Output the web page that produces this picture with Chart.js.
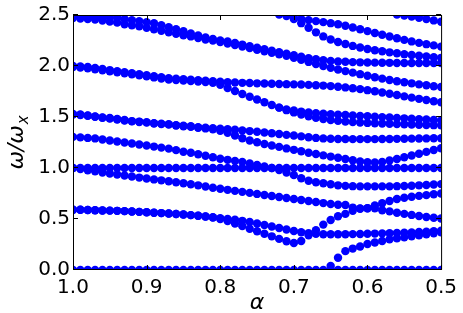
<!DOCTYPE html>
<html><head><meta charset="utf-8">
<script src="https://cdn.jsdelivr.net/npm/chart.js@4/dist/chart.umd.min.js"></script>
<style>html,body{margin:0;padding:0;background:#fff;}#wrap{width:463px;height:313px;}</style>
</head><body><div id="wrap"><canvas id="c" width="463" height="313"></canvas></div>
<script>
const alpha = [1.00,0.99,0.98,0.97,0.96,0.95,0.94,0.93,0.92,0.91,
0.90,0.89,0.88,0.87,0.86,0.85,0.84,0.83,0.82,0.81,
0.80,0.79,0.78,0.77,0.76,0.75,0.74,0.73,0.72,0.71,
0.70,0.69,0.68,0.67,0.66,0.65,0.64,0.63,0.62,0.61,
0.60,0.59,0.58,0.57,0.56,0.55,0.54,0.53,0.52,0.51,0.50];
const xTicks = [1.0,0.9,0.8,0.7,0.6,0.5];
const yTicks = [0.0,0.5,1.0,1.5,2.0,2.5];

const zeroMode = [0,0,0,0,0,0,0,0,0,0, 0,0,0,0,0,0,0,0,0,0, 0,0,0,0,0,0,0,0,0,0, 0,0,0,0,0,0,0,0,0,0, 0,0,0,0,0,0,0,0,0,0,0];
const softMode = [null,null,null,null,null,null,null,null,null,null,
null,null,null,null,null,null,null,null,null,null,
null,null,null,null,null,null,null,null,null,null,
null,null,null,null,null,0.04,0.12,0.185,0.21,0.23,
0.255,0.27,0.285,0.30,0.31,0.32,0.33,0.34,0.35,0.36,0.37];
const p1 = [0.590,0.590,0.588,0.586,0.584,0.582,0.580,0.577,0.574,0.570,
0.566,0.562,0.558,0.554,0.549,0.544,0.538,0.532,0.525,0.517,
0.508,0.500,0.492,0.482,0.470,0.456,0.442,0.427,0.412,0.397,
0.383,0.370,0.360,0.354,0.351,0.350,0.350,0.351,0.352,0.353,
0.355,0.357,0.359,0.361,0.363,0.366,0.369,0.372,0.376,0.380,0.385];
const p2 = [0.590,0.590,0.588,0.586,0.584,0.582,0.580,0.577,0.574,0.570,
0.566,0.562,0.558,0.554,0.549,0.544,0.538,0.532,0.525,0.515,
0.500,0.480,0.455,0.430,0.405,0.380,0.355,0.330,0.305,0.282,
0.265,0.285,0.340,0.390,0.445,0.490,0.527,0.550,0.580,0.600,
0.606,0.606,0.585,0.575,0.562,0.550,0.540,0.530,0.520,0.512,0.505];
const dMode = [1.000,0.990,0.978,0.967,0.956,0.946,0.936,0.926,0.916,0.906,
0.897,0.888,0.879,0.870,0.860,0.850,0.840,0.830,0.818,0.807,
0.796,0.786,0.776,0.766,0.756,0.746,0.736,0.726,0.716,0.706,
0.696,0.686,0.676,0.666,0.656,0.647,0.640,0.638,0.612,0.604,
0.606,0.632,0.655,0.677,0.696,0.709,0.718,0.727,0.734,0.742,0.750];
const eMode = [1,1,1,1,1,1,1,1,1,1, 1,1,1,1,1,1,1,1,1,1, 1,1,1,1,1,1,1,1,1,1, 1,1,1,1,1,1,1,1,1,1, 1,1,1,1,1,1,1,1,1,1,1];
const fMode = [1.305,1.300,1.295,1.290,1.280,1.270,1.260,1.250,1.240,1.230,
1.220,1.210,1.200,1.190,1.175,1.160,1.150,1.135,1.120,1.105,
1.090,1.080,1.070,1.060,1.045,1.030,1.015,1.000,0.980,0.955,
0.930,0.900,0.875,0.860,0.850,0.840,0.830,0.825,0.822,0.820,
0.820,0.820,0.820,0.820,0.822,0.824,0.826,0.830,0.834,0.838,0.842];
const gUpper = [1.530,1.525,1.515,1.505,1.495,1.490,1.480,1.470,1.460,1.455,
1.450,1.440,1.435,1.430,1.420,1.415,1.410,1.400,1.395,1.390,
1.385,1.380,1.375,1.368,1.362,1.355,1.348,1.340,1.333,1.325,
1.318,1.310,1.302,1.295,1.290,1.287,1.285,1.284,1.283,1.283,
1.283,1.283,1.284,1.285,1.286,1.287,1.288,1.289,1.290,1.291,1.292];
const gLower = [1.525,1.520,1.512,1.502,1.492,1.486,1.476,1.466,1.457,1.451,
1.445,1.436,1.430,1.425,1.416,1.410,1.404,1.395,1.388,1.380,
1.365,1.345,1.318,1.292,1.270,1.252,1.236,1.221,1.207,1.192,
1.178,1.164,1.150,1.137,1.124,1.112,1.100,1.088,1.076,1.064,
1.056,1.054,1.060,1.073,1.088,1.105,1.122,1.140,1.158,1.176,1.194];
const hUpper = [2.000,1.995,1.990,1.980,1.970,1.960,1.950,1.940,1.930,1.920,
1.910,1.900,1.890,1.880,1.875,1.870,1.865,1.860,1.855,1.850,
1.845,1.840,1.838,1.835,1.833,1.830,1.828,1.826,1.824,1.822,
1.820,1.818,1.815,1.812,1.808,1.803,1.797,1.790,1.782,1.773,
1.763,1.752,1.740,1.728,1.715,1.702,1.690,1.678,1.666,1.655,1.645];
const hLower = [1.990,1.985,1.978,1.968,1.958,1.948,1.938,1.928,1.918,1.908,
1.898,1.888,1.878,1.868,1.862,1.857,1.852,1.847,1.842,1.835,
1.815,1.785,1.755,1.725,1.698,1.672,1.645,1.618,1.592,1.567,
1.545,1.525,1.507,1.492,1.480,1.470,1.462,1.455,1.450,1.446,
1.442,1.439,1.436,1.433,1.430,1.428,1.426,1.424,1.422,1.420,1.418];
const hSide = [null,null,null,null,null,null,null,null,null,null,
null,null,null,null,null,null,null,null,null,null,
null,null,null,null,null,null,null,null,1.592,1.575,
1.563,1.553,1.545,1.538,1.532,1.527,1.523,1.519,1.515,1.511,
1.507,1.503,1.499,1.495,1.491,1.487,1.483,1.479,1.475,1.471,1.467];
const tUpper = [2.500,2.495,2.490,2.485,2.480,2.475,2.470,2.460,2.450,2.440,
2.430,2.420,2.400,2.380,2.360,2.340,2.320,2.300,2.280,2.265,
2.250,2.240,2.225,2.210,2.195,2.180,2.165,2.150,2.135,2.120,
2.105,2.090,2.077,2.066,2.057,2.050,2.045,2.041,2.038,2.036,
2.034,2.033,2.032,2.031,2.030,2.030,2.030,2.030,2.030,2.030,2.030];
const tLower = [2.470,2.465,2.460,2.455,2.445,2.435,2.425,2.410,2.400,2.390,
2.375,2.360,2.345,2.330,2.315,2.300,2.290,2.275,2.260,2.250,
2.235,2.220,2.205,2.190,2.175,2.160,2.145,2.130,2.115,2.100,
2.080,2.060,2.040,2.020,2.000,1.982,1.965,1.950,1.935,1.920,
1.905,1.890,1.876,1.863,1.851,1.840,1.830,1.820,1.811,1.802,1.794];
const r1 = [null,null,null,null,null,null,null,null,null,null,
null,null,null,null,null,null,null,null,null,null,
null,null,null,null,null,null,null,null,2.505,2.490,
2.475,2.462,2.450,2.440,2.430,2.420,2.410,2.395,2.378,2.360,
2.342,2.324,2.306,2.289,2.272,2.256,2.241,2.227,2.214,2.202,2.190];
const r2 = [null,null,null,null,null,null,null,null,null,null,
null,null,null,null,null,null,null,null,null,null,
null,null,null,null,null,null,null,null,null,null,
2.460,2.420,2.375,2.330,2.290,2.260,2.235,2.215,2.197,2.181,
2.167,2.155,2.144,2.134,2.125,2.116,2.108,2.100,2.093,2.086,2.080];
const r3 = [null,null,null,null,null,null,null,null,null,null,
null,null,null,null,null,null,null,null,null,null,
null,null,null,null,null,null,null,null,null,null,
null,null,null,null,null,null,null,null,null,null,
null,null,null,null,2.505,2.495,2.485,2.473,2.460,2.447,2.434];

const branches = [zeroMode, softMode, p1, p2, dMode, eMode, fMode, gUpper, gLower,
  hUpper, hLower, hSide, tUpper, tLower, r1, r2, r3];

const datasets = branches.map(b => ({
  data: b.map((w, i) => w === null ? null : {x: alpha[i], y: w}).filter(p => p !== null),
  showLine: false,
  pointRadius: 4.2,
  pointHoverRadius: 4.2,
  pointBorderWidth: 0,
  backgroundColor: '#0000ff',
  borderColor: '#0000ff',
  clip: 0
}));

const framePlugin = {
  id: 'frame',
  afterDatasetsDraw(chart) {
    const {ctx, chartArea: a, scales} = chart;
    ctx.save();
    ctx.strokeStyle = '#000';
    ctx.lineWidth = 1;
    ctx.beginPath();
    ctx.rect(a.left + 0.5, a.top + 0.5, a.right - a.left, a.bottom - a.top - 1);
    ctx.stroke();
    const tl = 5;
    ctx.beginPath();
    xTicks.forEach(v => {
      const px = Math.round(scales.x.getPixelForValue(v)) + 0.5;
      ctx.moveTo(px, a.bottom); ctx.lineTo(px, a.bottom - tl);
      ctx.moveTo(px, a.top); ctx.lineTo(px, a.top + tl);
    });
    yTicks.forEach(v => {
      const py = Math.round(scales.y.getPixelForValue(v)) - 0.5;
      ctx.moveTo(a.left, py); ctx.lineTo(a.left + tl, py);
      ctx.moveTo(a.right, py); ctx.lineTo(a.right - tl, py);
    });
    ctx.stroke();
    ctx.restore();
  },
  afterDraw(chart) {
    const {ctx, chartArea: a} = chart;
    ctx.save();
    ctx.fillStyle = '#000';
    ctx.font = 'italic 22px "DejaVu Sans"';
    ctx.textAlign = 'center';
    ctx.textBaseline = 'alphabetic';
    ctx.fillText('α', (a.left + a.right) / 2, 309);
    const main = 'ω/ω', sub = 'x';
    ctx.font = 'italic 22px "DejaVu Sans"';
    const wMain = ctx.measureText(main).width;
    ctx.font = 'italic 15px "DejaVu Sans"';
    const wSub = ctx.measureText(sub).width;
    const total = wMain + wSub + 1;
    ctx.translate(23, (a.top + a.bottom) / 2);
    ctx.rotate(-Math.PI / 2);
    ctx.textAlign = 'left';
    ctx.font = 'italic 22px "DejaVu Sans"';
    ctx.fillText(main, -total / 2, 0);
    ctx.font = 'italic 15px "DejaVu Sans"';
    ctx.fillText(sub, -total / 2 + wMain + 1, 5);
    ctx.restore();
  }
};

new Chart(document.getElementById('c'), {
  type: 'scatter',
  data: {datasets},
  options: {
    responsive: false,
    devicePixelRatio: 1,
    animation: false,
    events: [],
    layout: {padding: {left: 0, right: 19, top: 9, bottom: 0}},
    plugins: {legend: {display: false}, tooltip: {enabled: false}},
    scales: {
      x: {
        type: 'linear', reverse: true, min: 0.5, max: 1.0,
        afterBuildTicks: s => { s.ticks = xTicks.map(v => ({value: v})); },
        afterFit: s => { s.height = 43; },
        grid: {display: false, drawTicks: false},
        border: {display: false},
        ticks: {font: {family: 'DejaVu Sans', size: 20}, color: '#000', padding: 6,
          maxRotation: 0, autoSkip: false, callback: v => Number(v).toFixed(1)}
      },
      y: {
        type: 'linear', min: 0, max: 2.5,
        afterBuildTicks: s => { s.ticks = yTicks.map(v => ({value: v})); },
        afterFit: s => { s.width = 73; },
        grid: {display: false, drawTicks: false},
        border: {display: false},
        ticks: {font: {family: 'DejaVu Sans', size: 20}, color: '#000', padding: 3,
          autoSkip: false, callback: v => Number(v).toFixed(1)}
      }
    }
  },
  plugins: [framePlugin]
});
</script>
</body></html>
